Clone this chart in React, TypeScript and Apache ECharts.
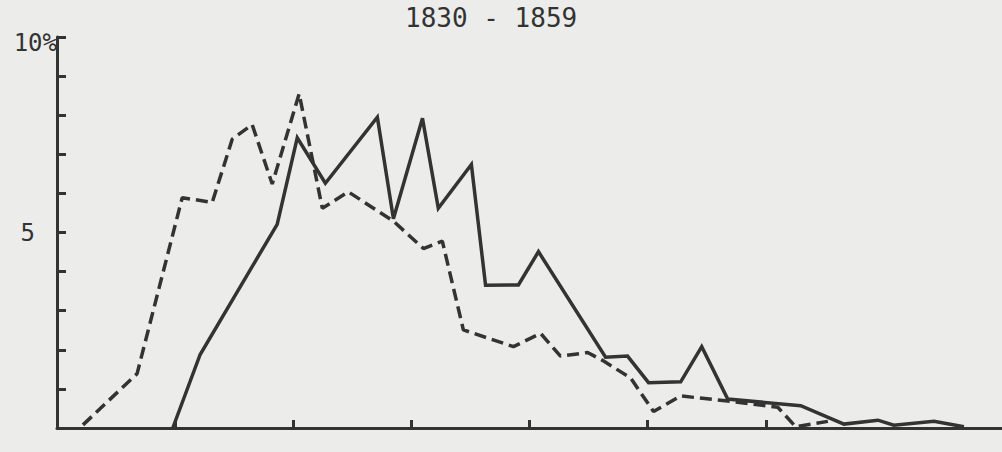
import React, { useEffect, useRef } from "react";
import * as echarts from "echarts";

const titleText = "1830 - 1859";
const yTickLabels: Record<number, string> = { 5: "5" };
const yTopLabel = "10%";
const xTickValues = [5, 10, 15, 20, 25, 30];

// solid line
const solidX = [4.9, 6.06, 9.32, 10.17, 11.36, 13.56, 14.24, 15.47, 16.14, 17.54, 18.14, 19.53, 20.38, 23.22, 24.15, 25.04, 26.4, 27.29, 28.39, 31.48, 33.31, 34.75, 35.42, 37.12, 38.39];
const solidY = [0, 1.88, 5.21, 7.42, 6.26, 7.95, 5.35, 7.92, 5.62, 6.74, 3.65, 3.66, 4.51, 1.81, 1.84, 1.16, 1.18, 2.08, 0.74, 0.57, 0.1, 0.2, 0.07, 0.17, 0.03];

// dashed line
const dashX = [1.1, 3.39, 5.3, 6.57, 7.42, 8.26, 9.11, 10.25, 11.23, 12.33, 14.24, 15.51, 16.31, 17.2, 19.32, 20.47, 21.31, 22.46, 23.09, 24.28, 25.25, 26.4, 28.39, 30.51, 31.27, 32.63];
const dashY = [0.08, 1.39, 5.89, 5.77, 7.39, 7.76, 6.24, 8.55, 5.62, 6.04, 5.29, 4.59, 4.78, 2.51, 2.08, 2.42, 1.84, 1.93, 1.73, 1.28, 0.42, 0.82, 0.69, 0.53, 0.03, 0.17];

const ink = "#333333";
const font = "DejaVu Sans Mono";

export default function App() {
  const ref = useRef<HTMLDivElement>(null);
  useEffect(() => {
    if (!ref.current) return;
    const chart = echarts.init(ref.current, undefined, { renderer: "svg" });
    chart.setOption({
      animation: false,
      backgroundColor: "#ececeb",
      title: {
        text: titleText,
        left: 400,
        top: 0,
        textStyle: { color: ink, fontFamily: font, fontSize: 26, fontWeight: "normal" },
      },
      grid: { left: 57, right: 0, top: 37, bottom: 24 },
      xAxis: {
        type: "value",
        min: 0,
        max: 40,
        interval: 5,
        axisLine: { show: true, lineStyle: { color: ink, width: 3 } },
        axisTick: { show: true, inside: true, length: 8, customValues: xTickValues, lineStyle: { color: ink, width: 3 } },
        axisLabel: { show: false },
        splitLine: { show: false },
      },
      yAxis: {
        type: "value",
        min: 0,
        max: 10,
        interval: 1,
        name: yTopLabel,
        nameLocation: "end",
        nameGap: -6,
        nameTextStyle: { color: ink, fontFamily: font, fontSize: 24, align: "right", verticalAlign: "middle", padding: [0, 0, 0, 0] },
        axisLine: { show: true, lineStyle: { color: ink, width: 3 } },
        axisTick: { show: true, inside: true, length: 9, lineStyle: { color: ink, width: 3 } },
        axisLabel: {
          show: true,
          margin: 22,
          color: ink,
          fontFamily: font,
          fontSize: 24,
          formatter: (v: number) => yTickLabels[v] ?? "",
        },
        splitLine: { show: false },
      },
      series: [
        {
          type: "line",
          data: solidX.map((x, i) => [x, solidY[i]]),
          showSymbol: false,
          lineStyle: { color: ink, width: 3.5, type: "solid", join: "miter" },
          z: 3,
        },
        {
          type: "line",
          data: dashX.map((x, i) => [x, dashY[i]]),
          showSymbol: false,
          lineStyle: { color: ink, width: 3.5, type: [12, 6] },
          z: 2,
        },
      ],
    });
    return () => chart.dispose();
  }, []);
  return <div ref={ref} style={{ position: "fixed", left: 0, top: 0, width: 1002, height: 452 }} />;
}
